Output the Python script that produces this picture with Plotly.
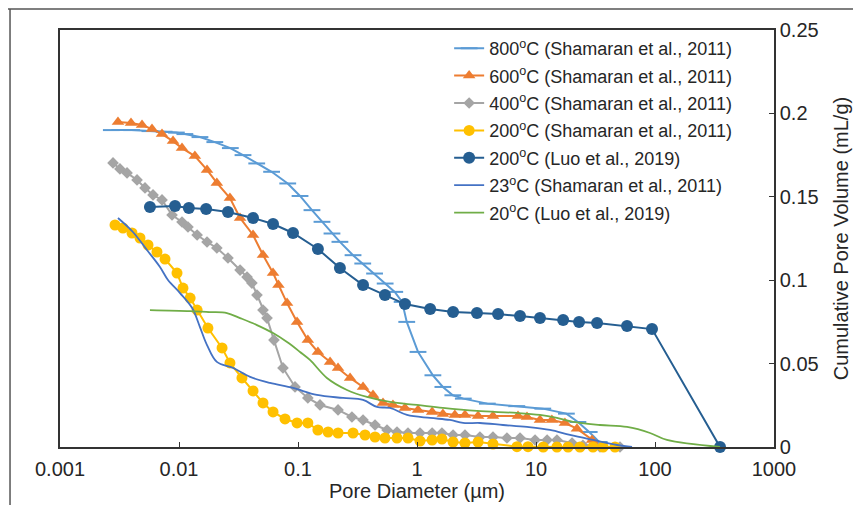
import plotly.graph_objects as go

# ---- data ----
x800 = [0.0027, 0.0040, 0.0057, 0.0075, 0.0095, 0.0112, 0.015, 0.020, 0.027, 0.0345, 0.045, 0.060, 0.082,
        0.104, 0.131, 0.159, 0.193, 0.225, 0.29, 0.35, 0.44, 0.54, 0.65, 0.75, 0.82, 1.02, 1.36, 1.65, 2.0,
        2.45, 3.9, 6.9, 11.4, 18.0, 22.5, 28.0, 34.0, 40.0]
y800 = [0.190, 0.190, 0.1894, 0.189, 0.1885, 0.1876, 0.1858, 0.1828, 0.1792, 0.175, 0.170, 0.165, 0.158,
        0.1505, 0.142, 0.135, 0.128, 0.123, 0.115, 0.110, 0.104, 0.098, 0.093, 0.087, 0.075, 0.057, 0.043,
        0.036, 0.031, 0.029, 0.026, 0.0245, 0.023, 0.020, 0.015, 0.009, 0.003, 0.0]

x600 = [0.00307, 0.00395, 0.00489, 0.00593, 0.0072, 0.00891, 0.0106, 0.0136, 0.0172, 0.0208, 0.0268, 0.0326,
        0.0419, 0.0508, 0.0617, 0.0685, 0.0809, 0.0982, 0.121, 0.147, 0.186, 0.217, 0.274, 0.352, 0.427,
        0.518, 0.628, 0.792, 1.02, 1.34, 1.65, 2.08, 2.53, 3.26, 4.35, 7.06, 8.4, 10.8, 13.6, 17.5, 22.1,
        29.6, 35.9]
y600 = [0.1948, 0.1942, 0.1930, 0.1906, 0.1876, 0.1834, 0.1792, 0.1744, 0.1661, 0.1583, 0.1493, 0.1373,
        0.1271, 0.1151, 0.1043, 0.0971, 0.0863, 0.0749, 0.0641, 0.0570, 0.0510, 0.0474, 0.0414, 0.0360,
        0.0312, 0.0264, 0.0252, 0.0234, 0.0222, 0.0210, 0.0198, 0.0192, 0.0192, 0.0186, 0.0186, 0.0186,
        0.0180, 0.0162, 0.0162, 0.0144, 0.0110, 0.0042, 0.0]

x400 = [0.00279, 0.00319, 0.00366, 0.00444, 0.00518, 0.00605, 0.0072, 0.00874, 0.0106, 0.0119, 0.0142,
        0.0172, 0.0208, 0.0258, 0.0326, 0.0373, 0.0410, 0.0452, 0.0508, 0.0549, 0.0628, 0.0748, 0.0944,
        0.121, 0.153, 0.217, 0.284, 0.352, 0.444, 0.56, 0.679, 0.84, 1.06, 1.34, 1.62, 2.01, 2.53, 3.38,
        4.35, 5.7, 7.34, 9.82, 12.4, 15.0, 20.1, 24.8, 34.5, 50.8]
y400 = [0.1703, 0.1667, 0.1643, 0.1601, 0.1553, 0.1511, 0.1481, 0.1391, 0.1349, 0.1319, 0.1271, 0.1229,
        0.1193, 0.1133, 0.1061, 0.1019, 0.0983, 0.0911, 0.0821, 0.0773, 0.0641, 0.0474, 0.0360, 0.0294,
        0.0252, 0.0222, 0.0180, 0.0162, 0.0132, 0.0102, 0.0090, 0.0084, 0.0084, 0.0084, 0.0084, 0.0072,
        0.0072, 0.0060, 0.0060, 0.0054, 0.0054, 0.0042, 0.0042, 0.0042, 0.0024, 0.0010, 0.0, 0.0]

x200s = [0.0029, 0.00338, 0.00403, 0.0047, 0.00549, 0.00653, 0.00763, 0.00962, 0.0108, 0.0124, 0.0142,
         0.0175, 0.023, 0.0268, 0.0338, 0.0419, 0.0508, 0.0617, 0.0778, 0.0982, 0.121, 0.147, 0.179, 0.217,
         0.29, 0.366, 0.444, 0.538, 0.679, 0.84, 1.06, 1.34, 1.62, 2.01, 2.53, 3.26, 4.35, 6.92, 8.57, 11.5,
         15.0, 18.6, 23.4, 30.1, 36.6, 46.1]
y200s = [0.1331, 0.1313, 0.1283, 0.1253, 0.1211, 0.1169, 0.1127, 0.1043, 0.0953, 0.0893, 0.0821, 0.0713,
         0.0594, 0.0504, 0.0414, 0.0336, 0.0264, 0.0210, 0.0168, 0.0144, 0.0144, 0.0102, 0.0090, 0.0084,
         0.0084, 0.0072, 0.0060, 0.0054, 0.0054, 0.0054, 0.0036, 0.0042, 0.0048, 0.0030, 0.0024, 0.0030,
         0.0018, 0.0002, 0.0002, 0.0, 0.0, 0.0, 0.0, 0.0, 0.0, 0.0]

x200l = [0.0057, 0.00926, 0.0121, 0.0169, 0.0258, 0.0419, 0.0617, 0.0908, 0.147, 0.225, 0.352, 0.538, 0.792,
         1.29, 2.01, 3.19, 4.8, 7.34, 10.8, 16.9, 23.0, 32.6, 58.2, 94.4, 352.0]
y200l = [0.1439, 0.1445, 0.1433, 0.1427, 0.1409, 0.1373, 0.1337, 0.1283, 0.1187, 0.1073, 0.0971, 0.0911,
         0.0857, 0.0827, 0.0809, 0.0803, 0.0797, 0.0785, 0.0773, 0.0761, 0.0749, 0.0743, 0.0725, 0.0707, 0.0]

x23 = [0.00307, 0.0041, 0.00538, 0.00692, 0.00808, 0.0102, 0.0129, 0.015, 0.0172, 0.0208, 0.0284, 0.0396,
       0.0582, 0.0908, 0.144, 0.239, 0.352, 0.461, 0.593, 0.824, 1.29, 1.89, 2.44, 3.38, 5.28, 8.4, 13.1,
       19.3, 30.1, 48.0, 64.1]
y23 = [0.1373, 0.1289, 0.1181, 0.1079, 0.1001, 0.0923, 0.0833, 0.0719, 0.0611, 0.0510, 0.0474, 0.0420,
       0.0384, 0.0354, 0.0312, 0.0294, 0.0282, 0.0240, 0.0234, 0.0192, 0.0174, 0.0162, 0.0144, 0.0144,
       0.0132, 0.0120, 0.0102, 0.0072, 0.0042, 0.0012, 0.0]

x20 = [0.0057, 0.0124, 0.0182, 0.0253, 0.0326, 0.0452, 0.0617, 0.0809, 0.104, 0.126, 0.175, 0.258, 0.38,
       0.593, 1.0, 1.65, 3.19, 6.92, 10.8, 15.0, 20.5, 34.5, 58.2, 90.8, 126.0, 352.0]
y20 = [0.0821, 0.0815, 0.0809, 0.0803, 0.0773, 0.0731, 0.0683, 0.0629, 0.0570, 0.0522, 0.0414, 0.0342,
       0.0300, 0.0270, 0.0252, 0.0234, 0.0216, 0.0204, 0.0192, 0.0174, 0.0150, 0.0132, 0.0120, 0.0084,
       0.0042, 0.0]

x_tickvals = [0.001, 0.01, 0.1, 1, 10, 100, 1000]
x_ticktext = ["0.001", "0.01", "0.1", "1", "10", "100", "1000"]
y_tickvals = [0, 0.05, 0.1, 0.15, 0.2, 0.25]
y_ticktext = ["0", "0.05", "0.1", "0.15", "0.2", "0.25"]

names = ["800<sup>o</sup>C (Shamaran et al., 2011)",
         "600<sup>o</sup>C (Shamaran et al., 2011)",
         "400<sup>o</sup>C (Shamaran et al., 2011)",
         "200<sup>o</sup>C (Shamaran et al., 2011)",
         "200<sup>o</sup>C (Luo et al., 2019)",
         "23<sup>o</sup>C (Shamaran et al., 2011)",
         "20<sup>o</sup>C (Luo et al., 2019)"]

FONT = "Arial, 'Liberation Sans', sans-serif"
fig = go.Figure()

def add(x, y, name, color, width, marker=None, shape="linear", group="g"):
    kw = dict(x=x, y=y, name=name, mode="lines+markers" if marker else "lines",
              line=dict(color=color, width=width, shape=shape), cliponaxis=False,
              legendgroup=group)
    if marker:
        kw["marker"] = marker
    fig.add_trace(go.Scatter(**kw))

add(x800, y800, names[0], "#5B9BD5", 2,
    dict(symbol="line-ew", size=12, color="#5B9BD5", line=dict(width=2, color="#5B9BD5")), group="a")
add(x600, y600, names[1], "#ED7D31", 2,
    dict(symbol="triangle-up", size=11, color="#ED7D31"), group="b")
add(x400, y400, names[2], "#A5A5A5", 2,
    dict(symbol="diamond", size=9, color="#A5A5A5"), group="c")
add(x200s, y200s, names[3], "#FFC000", 2,
    dict(symbol="circle", size=11, color="#FFC000"), group="d")
add(x200l, y200l, names[4], "#255E91", 2,
    dict(symbol="circle", size=12, color="#255E91"), group="e")
add(x23, y23, names[5], "#4472C4", 1.8, None, shape="spline", group="f")
add(x20, y20, names[6], "#70AD47", 1.8, None, shape="spline", group="h")

fig.update_layout(
    width=861, height=505,
    margin=dict(l=52, r=95, t=22, b=66),
    paper_bgcolor="white", plot_bgcolor="white",
    font=dict(family=FONT, size=20, color="#262626"),
    showlegend=True,
    legend=dict(x=0.545, y=1.0, xanchor="left", yanchor="top",
                bgcolor="rgba(0,0,0,0)", font=dict(size=18, color="#262626"),
                itemwidth=30, tracegroupgap=1, traceorder="grouped"),
    xaxis=dict(type="log", range=[-3, 3], tickvals=x_tickvals, ticktext=x_ticktext,
               showgrid=False, zeroline=False, showline=True, linecolor="#333333", linewidth=1.5,
               mirror=True, ticks="inside", ticklen=5, tickcolor="#333333", automargin=False,
               ticklabelstandoff=3,
               title=dict(text="Pore Diameter (µm)", standoff=0, font=dict(size=20)),
               tickfont=dict(size=20)),
    yaxis=dict(range=[0, 0.25], side="right", tickvals=y_tickvals, ticktext=y_ticktext,
               showgrid=False, zeroline=False, showline=True, linecolor="#333333", linewidth=1.5,
               mirror=True, ticks="inside", ticklen=5, tickcolor="#333333", automargin=False,
               title=dict(text="Cumulative Pore Volume (mL/g)", standoff=16, font=dict(size=20)),
               tickfont=dict(size=20)),
)

# outer frame fragments (top and left border of the original figure)
fig.add_shape(type="line", xref="paper", yref="paper", x0=-0.1, x1=1.2, y0=1.0504, y1=1.0504,
              line=dict(color="#555555", width=1.5))
fig.add_shape(type="line", xref="paper", yref="paper", x0=-0.07, x1=-0.07, y0=-0.2, y1=1.0504,
              line=dict(color="#555555", width=1.5))

fig.write_html("out.html")
